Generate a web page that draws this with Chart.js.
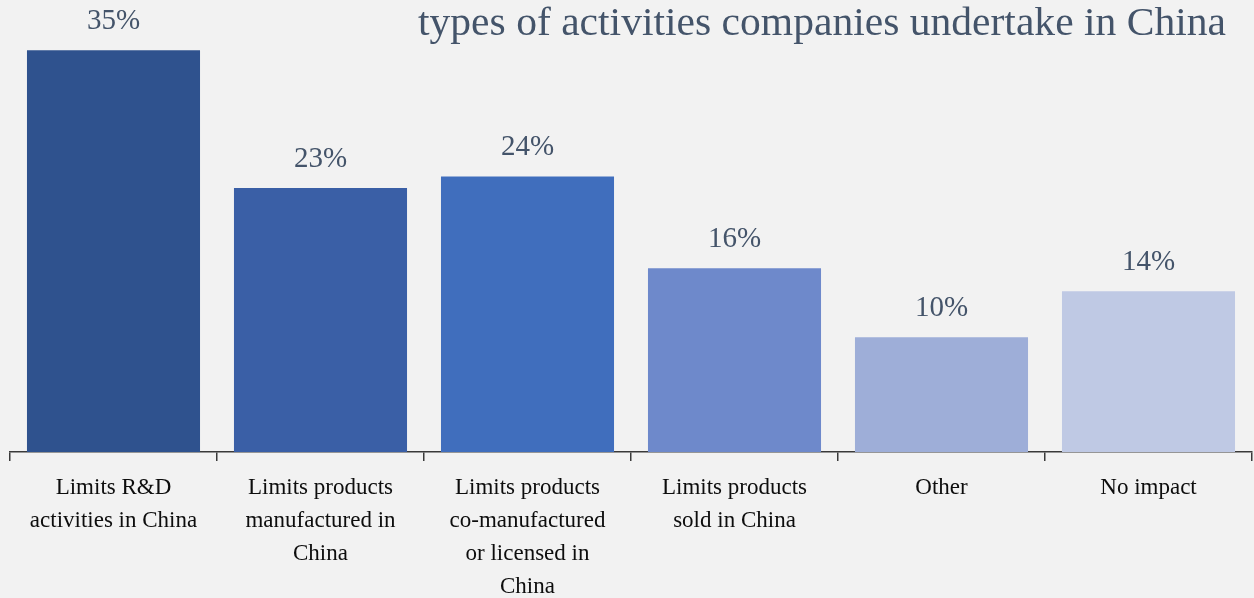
<!DOCTYPE html>
<html>
<head>
<meta charset="utf-8">
<script src="https://cdn.jsdelivr.net/npm/chart.js@4/dist/chart.umd.min.js"></script>
<style>
  html, body { margin: 0; padding: 0; background: #f2f2f2; }
  #wrap { width: 1254px; height: 598px; position: relative; }
</style>
</head>
<body>
<div id="wrap"><canvas id="c" width="1254" height="598"></canvas></div>
<script>
const categories = [
  ["Limits R&D", "activities in China"],
  ["Limits products", "manufactured in", "China"],
  ["Limits products", "co-manufactured", "or licensed in", "China"],
  ["Limits products", "sold in China"],
  ["Other"],
  ["No impact"]
];
const values = [35, 23, 24, 16, 10, 14];
const valueLabels = ["35%", "23%", "24%", "16%", "10%", "14%"];
const barColors = ["#2F528E", "#3A5FA6", "#406EBD", "#6E89CB", "#9EAED8", "#BFC9E4"];
const titleText = "types of activities companies undertake in China";

const SERIF = "'Liberation Serif', 'DejaVu Serif', serif";

const bgPlugin = {
  id: 'bg',
  beforeDraw(chart) {
    const ctx = chart.ctx;
    ctx.save();
    ctx.fillStyle = '#f2f2f2';
    ctx.fillRect(0, 0, chart.width, chart.height);
    ctx.restore();
  }
};

const labelPlugin = {
  id: 'valueLabels',
  afterDatasetsDraw(chart) {
    const ctx = chart.ctx;
    const meta = chart.getDatasetMeta(0);
    ctx.save();
    ctx.fillStyle = '#44546A';
    ctx.font = "29px " + SERIF;
    ctx.textAlign = 'center';
    ctx.textBaseline = 'middle';
    meta.data.forEach((bar, i) => {
      ctx.fillText(valueLabels[i], bar.x, bar.y - 29);
    });
    // title, stretched to the reference width
    ctx.font = "39px " + SERIF;
    ctx.textAlign = 'right';
    ctx.textBaseline = 'alphabetic';
    const w = ctx.measureText(titleText).width;
    ctx.translate(1226, 35);
    ctx.scale(808 / w, 1);
    ctx.fillText(titleText, 0, 0);
    ctx.restore();
  }
};

new Chart(document.getElementById('c'), {
  type: 'bar',
  data: {
    labels: categories,
    datasets: [{
      data: values,
      backgroundColor: barColors,
      borderWidth: 0,
      barPercentage: 0.836,
      categoryPercentage: 1.0
    }]
  },
  options: {
    responsive: false,
    animation: false,
    devicePixelRatio: 1,
    layout: { padding: { left: 10, right: 2, top: 0, bottom: 0 } },
    plugins: {
      legend: { display: false },
      title: { display: false },
      tooltip: { enabled: false }
    },
    scales: {
      y: {
        display: false,
        min: 0,
        max: 39.37
      },
      x: {
        afterFit(scale) { scale.height = 146; },
        border: { display: true, color: '#3a3a3a', width: 1.5 },
        grid: {
          offset: true,
          drawOnChartArea: false,
          drawTicks: true,
          tickLength: 9,
          color: '#3a3a3a',
          lineWidth: 1.5
        },
        ticks: {
          color: '#0d0d0d',
          padding: 10,
          maxRotation: 0,
          autoSkip: false,
          font: { family: SERIF, size: 23, lineHeight: 1.435 }
        }
      }
    }
  },
  plugins: [bgPlugin, labelPlugin]
});
</script>
</body>
</html>
